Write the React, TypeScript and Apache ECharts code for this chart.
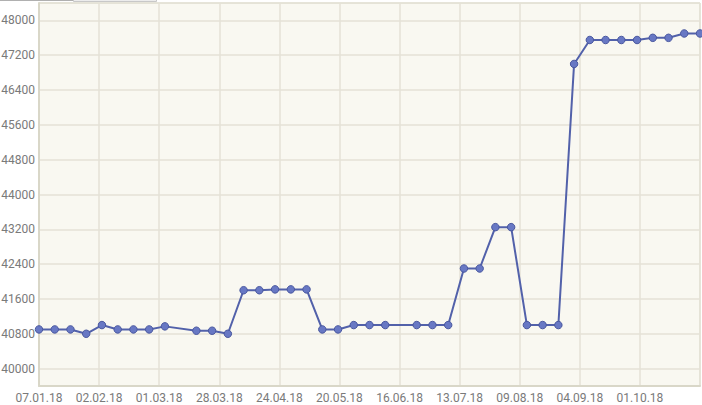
import React, { useEffect, useRef } from "react";
import * as echarts from "echarts";

const dates: string[] = [
  "2018-01-07", "2018-01-14", "2018-01-21", "2018-01-28", "2018-02-04", "2018-02-11",
  "2018-02-18", "2018-02-25", "2018-03-04", "2018-03-18", "2018-03-25", "2018-04-01",
  "2018-04-08", "2018-04-15", "2018-04-22", "2018-04-29", "2018-05-06", "2018-05-13",
  "2018-05-20", "2018-05-27", "2018-06-03", "2018-06-10", "2018-06-24", "2018-07-01",
  "2018-07-08", "2018-07-15", "2018-07-22", "2018-07-29", "2018-08-05", "2018-08-12",
  "2018-08-19", "2018-08-26", "2018-09-02", "2018-09-09", "2018-09-16", "2018-09-23",
  "2018-09-30", "2018-10-07", "2018-10-14", "2018-10-21", "2018-10-28",
];

const values: number[] = [
  40900, 40900, 40900, 40800, 41000, 40900,
  40900, 40900, 40970, 40870, 40870, 40800,
  41800, 41800, 41820, 41820, 41820, 40900,
  40900, 41000, 41000, 41000, 41000, 41000,
  41000, 42300, 42300, 43250, 43250, 41000,
  41000, 41000, 47000, 47550, 47550, 47550,
  47550, 47600, 47600, 47700, 47700,
];

const xTickLabels: string[] = [
  "07.01.18", "02.02.18", "01.03.18", "28.03.18", "24.04.18", "20.05.18",
  "16.06.18", "13.07.18", "09.08.18", "04.09.18", "01.10.18", "",
];

const yMin = 39600;
const yMax = 48400;
const yStep = 800;

const toTs = (d: string) => {
  const [y, m, dd] = d.split("-").map(Number);
  return Date.UTC(y, m - 1, dd);
};

export default function App() {
  const ref = useRef<HTMLDivElement>(null);

  useEffect(() => {
    if (!ref.current) return;
    const chart = echarts.init(ref.current, undefined, { renderer: "svg" });
    const xMin = toTs(dates[0]);
    const xMax = toTs(dates[dates.length - 1]);
    const xStep = (xMax - xMin) / (xTickLabels.length - 1);
    const data = dates.map((d, i) => [toTs(d), values[i]]);
    const labelColor = "#7a7a7a";
    const gridColor = "#e4e2d6";
    const axisColor = "#d9d7c8";

    chart.setOption({
      animation: false,
      backgroundColor: "#ffffff",
      textStyle: { fontFamily: "Roboto, sans-serif" },
      grid: {
        left: 39,
        right: 2,
        top: 3,
        bottom: 19,
        containLabel: false,
        outerBoundsMode: "none",
        show: true,
        backgroundColor: "#f9f8f1",
        borderColor: "#d6d4c6",
        borderWidth: 1,
      },
      xAxis: {
        type: "value",
        min: xMin,
        max: xMax,
        interval: xStep,
        axisLine: { show: true, lineStyle: { color: axisColor, width: 2 } },
        axisTick: { show: false },
        splitLine: { show: true, lineStyle: { color: gridColor, width: 1.5 } },
        axisLabel: {
          color: labelColor,
          fontSize: 12,
          margin: 6,
          showMaxLabel: false,
          formatter: (v: number) => {
            const idx = Math.round((v - xMin) / xStep);
            return xTickLabels[idx] ?? "";
          },
        },
      },
      yAxis: {
        type: "value",
        min: yMin,
        max: yMax,
        minInterval: yStep,
        maxInterval: yStep,
        axisLine: { show: true, lineStyle: { color: axisColor, width: 2 } },
        axisTick: { show: false },
        splitLine: { show: true, lineStyle: { color: gridColor, width: 1.5 } },
        axisLabel: {
          color: labelColor,
          fontSize: 12,
          margin: 4,
          showMinLabel: false,
          showMaxLabel: false,
          formatter: (v: number) => String(Math.round(v)),
        },
      },
      graphic: [
        {
          type: "line",
          shape: { x1: 0, y1: 0.5, x2: 73, y2: 0.5 },
          style: { stroke: "#b0b0b0", lineWidth: 1 },
          silent: true,
        },
        {
          type: "rect",
          shape: { x: 73.5, y: -2, width: 83, height: 3.5 },
          style: { fill: "#ececec", stroke: "#c8c8c8", lineWidth: 1 },
          silent: true,
        },
      ],
      series: [
        {
          type: "line",
          data,
          symbol: "circle",
          symbolSize: 7.5,
          showAllSymbol: true,
          lineStyle: { color: "#5261aa", width: 2 },
          itemStyle: { color: "#6878c4", borderColor: "#4a589f", borderWidth: 1 },
          clip: false,
        },
      ],
    });

    return () => chart.dispose();
  }, []);

  return (
    <div
      ref={ref}
      style={{ position: "fixed", left: 0, top: 0, width: 702, height: 405 }}
    />
  );
}
